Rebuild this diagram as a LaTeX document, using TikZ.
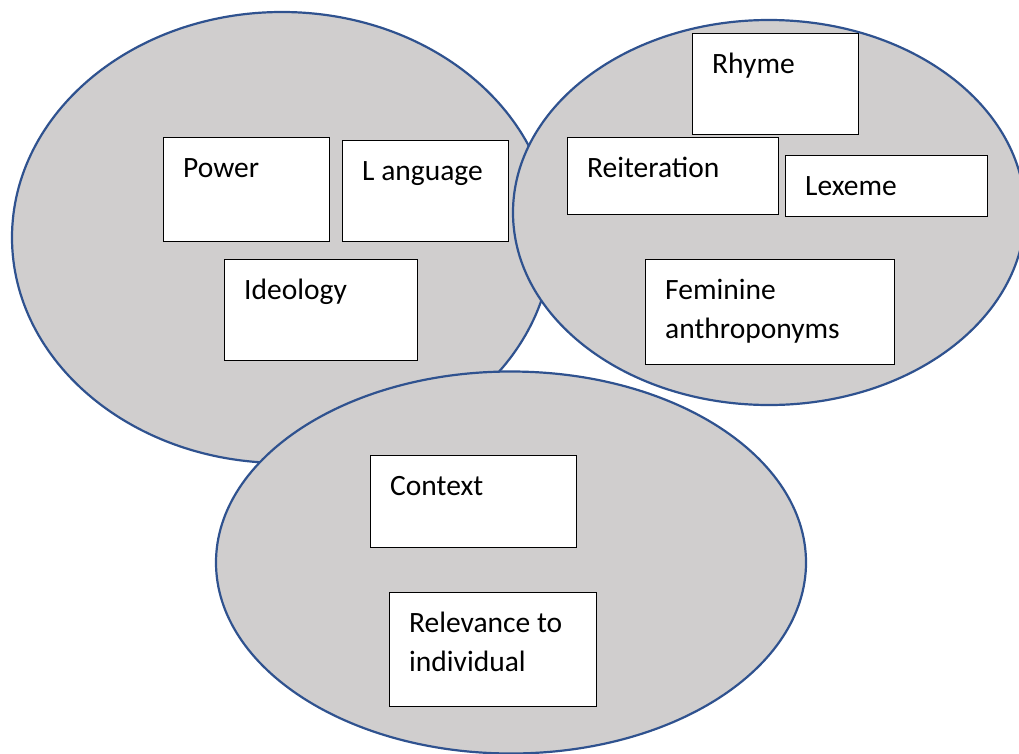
\documentclass[tikz,border=0pt]{standalone}
\usepackage{fontspec}
\setmainfont{Carlito}
\usetikzlibrary{calc}
\definecolor{venngray}{HTML}{D0CECE}
\definecolor{vennblue}{HTML}{2F528F}
\tikzset{
  venn/.style={fill=venngray, draw=vennblue, line width=2.2pt},
  wbox/.style={draw=black, fill=white, line width=1.2pt, anchor=north west, inner sep=0pt},
  lbl/.style={anchor=base west, inner sep=0pt, font=\fontsize{29.5}{39}\selectfont, align=left},
}
\begin{document}
\begin{tikzpicture}[x=1pt,y=-1pt]
\useasboundingbox (0,0) rectangle (1019,753);
\clip (0,0) rectangle (1019,753);
% ellipses
\path[venn] (282,237.5) ellipse [x radius=270, y radius=225.5];
\path[venn] (769,212.5) ellipse [x radius=256, y radius=192.5];
\path[venn] (511,562.5) ellipse [x radius=295, y radius=191];
% boxes
\node[wbox, minimum width=166pt, minimum height=104pt] (power) at (163,137) {};
\node[lbl] (powert) at ($(power.north west)+(20,40)$) {Power};
\node[wbox, minimum width=166pt, minimum height=101pt] (lang) at (342,140) {};
\node[lbl] (langt) at ($(lang.north west)+(20,40)$) {L anguage};
\node[wbox, minimum width=193pt, minimum height=101pt] (ideo) at (224,259) {};
\node[lbl] (ideot) at ($(ideo.north west)+(20,40)$) {Ideology};
\node[wbox, minimum width=166pt, minimum height=101pt] (rhyme) at (692,33) {};
\node[lbl] (rhymet) at ($(rhyme.north west)+(20,40)$) {Rhyme};
\node[wbox, minimum width=211pt, minimum height=77pt] (reit) at (567,137) {};
\node[lbl] (reitt) at ($(reit.north west)+(20,40)$) {Reiteration};
\node[wbox, minimum width=202pt, minimum height=61pt] (lex) at (785,155) {};
\node[lbl] (lext) at ($(lex.north west)+(20,40)$) {Lexeme};
\node[wbox, minimum width=249pt, minimum height=105pt] (fem) at (645,259) {};
\node[lbl] (femt) at ($(fem.north west)+(20,79)$) {Feminine\\anthroponyms};
\node[wbox, minimum width=206pt, minimum height=92pt] (ctx) at (370,455) {};
\node[lbl] (ctxt) at ($(ctx.north west)+(20,40)$) {Context};
\node[wbox, minimum width=207pt, minimum height=114pt] (rel) at (389,592) {};
\node[lbl] (relt) at ($(rel.north west)+(20,79)$) {Relevance to\\individual};
\end{tikzpicture}
\end{document}
